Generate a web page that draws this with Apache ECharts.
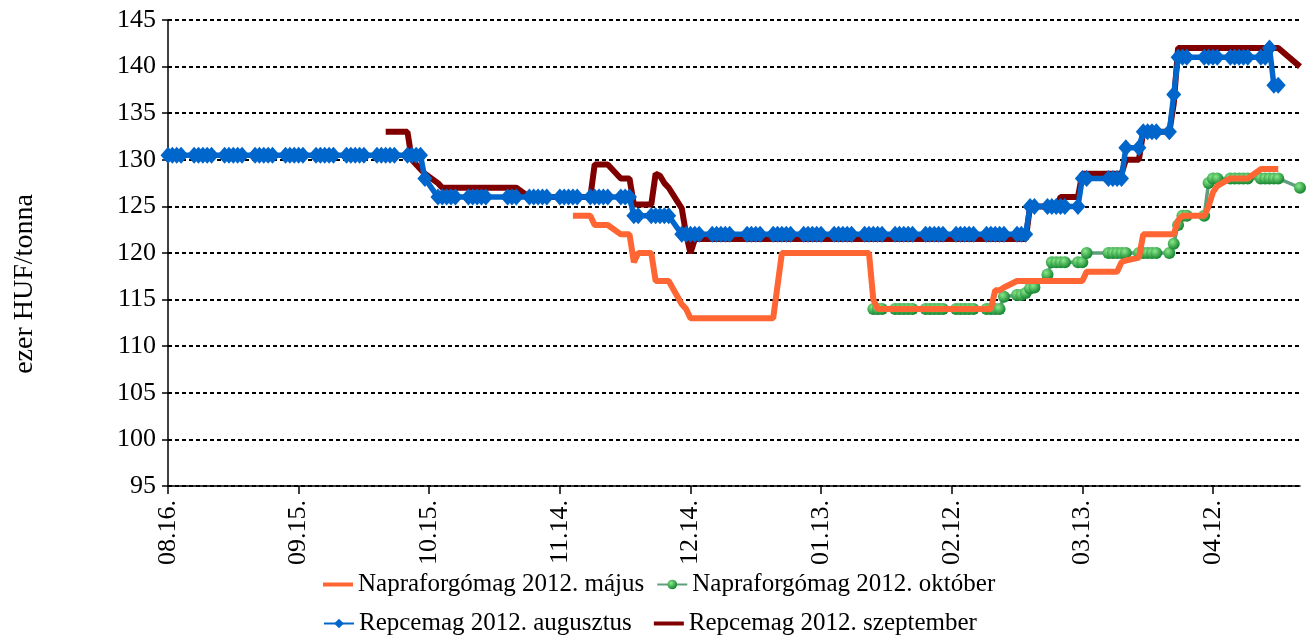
<!DOCTYPE html>
<html>
<head>
<meta charset="utf-8">
<script src="https://cdn.jsdelivr.net/npm/echarts@6/dist/echarts.min.js"></script>
<style>
  html, body { margin: 0; padding: 0; background: #fff; }
  #chart { width: 1309px; height: 636px; }
</style>
</head>
<body>
<div id="chart"></div>
<script>
// first calendar day on the x axis and number of days shown
const firstDay = [2011, 7, 16];
const dayCount = 261;

const seriesNames = [
  'Napraforgómag 2012. május',
  'Napraforgómag 2012. október',
  'Repcemag 2012. augusztus',
  'Repcemag 2012. szeptember'
];

// weekly rows, Monday..Friday, first row = week of 2011.08.15; null = no quote
const napraforgoMajus = [
  [null, null, null, null, null], [null, null, null, null, null], [null, null, null, null, null],
  [null, null, null, null, null], [null, null, null, null, null], [null, null, null, null, null],
  [null, null, null, null, null], [null, null, null, null, null], [null, null, null, null, null],
  [null, null, null, null, null], [null, null, null, null, null], [null, null, null, null, null],
  [null, null, null, null, null],
  [null, null, null, 124, 124],        // 11.14
  [124, 123, 123, 123, 123],
  [122, 122, 122, 119, 120],
  [120, 117, 117, 117, 117],
  [114.5, 114, 113, 113, 113],         // 12.12
  [113, 113, 113, 113, 113],
  [null, 113, 113, 113, 113],
  [113, 116.5, 120, 120, 120],         // 01.02
  [120, 120, 120, 120, 120],
  [120, 120, 120, 120, 120],
  [120, 120, 115, 114, 114],
  [114, 114, 114, 114, 114],           // 01.30
  [114, 114, 114, 114, 114],
  [114, 114, 114, 114, 114],
  [114, 114, 116, 116, 116.3],
  [117, 117, 117, 117, 117],           // 02.27
  [117, 117, 117, 117, 117],
  [117, 117, 118, null, null],
  [118, 118, 118, 119, 119.2],
  [119.5, 122, 122, 122, 122],         // 03.26
  [122, 122, 123.5, 124, 124],
  [null, 124, 125, 126.5, 127.2],
  [128, 128, 128, 128, 128],
  [129, 129, 129, 129, 129],           // 04.23
  [null, null, null]
];

const napraforgoOktober = [
  [null, null, null, null, null], [null, null, null, null, null], [null, null, null, null, null],
  [null, null, null, null, null], [null, null, null, null, null], [null, null, null, null, null],
  [null, null, null, null, null], [null, null, null, null, null], [null, null, null, null, null],
  [null, null, null, null, null], [null, null, null, null, null], [null, null, null, null, null],
  [null, null, null, null, null], [null, null, null, null, null], [null, null, null, null, null],
  [null, null, null, null, null], [null, null, null, null, null], [null, null, null, null, null],
  [null, null, null, null, null], [null, null, null, null, null], [null, null, null, null, null],
  [null, null, null, null, null], [null, null, null, null, null],
  [null, null, 114, 114, 114],         // 01.23
  [114, 114, 114, 114, 114],
  [114, 114, 114, 114, 114],
  [114, 114, 114, 114, 114],
  [114, 114, 114, 114, 115.3],         // 02.20
  [115.5, 115.5, 115.7, 116.2, 116.3],
  [117.7, 119, 119, 119, 119],
  [119, 119, 120, null, null],
  [120, 120, 120, 120, 120],           // 03.19
  [120, 120, 120, 120, 120],
  [120, 121, 123, 124, 124],
  [null, 124, 127.5, 128, 128],
  [128, 128, 128, 128, 128],           // 04.16
  [128, 128, 128, 128, 128],
  [null, null, 127]
];

const repceAugusztus = [
  [null, 130.5, 130.5, 130.5, 130.5],  // 08.15
  [130.5, 130.5, 130.5, 130.5, 130.5],
  [130.5, 130.5, 130.5, 130.5, 130.5],
  [130.5, 130.5, 130.5, 130.5, 130.5],
  [130.5, 130.5, 130.5, 130.5, 130.5],
  [130.5, 130.5, 130.5, 130.5, 130.5],
  [130.5, 130.5, 130.5, 130.5, 130.5],
  [130.5, 130.5, 130.5, 130.5, 130.5],
  [130.5, 130.5, 130.5, 130.5, 128],   // 10.10
  [126, 126, 126, 126, 126],
  [126, 126, 126, 126, 126],
  [null, null, 126, 126, 126],
  [126, 126, 126, 126, 126],
  [126, 126, 126, 126, 126],           // 11.14
  [126, 126, 126, 126, 126],
  [126, 126, 126, 124, 124],
  [124, 124, 124, 124, 124],
  [122, 122, 122, 122, 122],           // 12.12
  [122, 122, 122, 122, 122],
  [null, 122, 122, 122, 122],
  [122, 122, 122, 122, 122],
  [122, 122, 122, 122, 122],
  [122, 122, 122, 122, 122],
  [122, 122, 122, 122, 122],
  [122, 122, 122, 122, 122],           // 01.30
  [122, 122, 122, 122, 122],
  [122, 122, 122, 122, 122],
  [122, 122, 122, 122, 122],
  [122, 122, 122, 125, 125],           // 02.27
  [125, 125, 125, 125, 125],
  [125, 128, 128, null, null],
  [128, 128, 128, 128, 131.3],
  [131.3, 133, 133, 133, 133],         // 03.26
  [133, 137, 141, 141, 141],
  [null, 141, 141, 141, 141],
  [141, 141, 141, 141, 141],
  [141, 141, 142, 138, 138],           // 04.23
  [null, null, null]
];

const repceSzeptember = [
  [null, null, null, null, null], [null, null, null, null, null], [null, null, null, null, null],
  [null, null, null, null, null], [null, null, null, null, null], [null, null, null, null, null],
  [null, null, null, null, null],
  [null, null, 133, 133, 133],         // 10.03
  [133, 130, 129.5, 129, 128.5],
  [127.5, 127, 127, 127, 127],
  [127, 127, 127, 127, 127],
  [null, null, 127, 127, 127],
  [126, 126, 126, 126, 126],           // 11.07
  [126, 126, 126, 126, 126],
  [126, 129.5, 129.5, 129.5, 129.5],
  [128, 128, 128, 125.2, 125.2],
  [125.2, 128.5, 128.3, 127.5, 127],
  [124.8, 122, 120, 121.5, 121.5],     // 12.12
  [121.5, 121.5, 121.5, 121.5, 121.5],
  [null, 121.5, 121.5, 121.5, 121.5],
  [121.5, 121.5, 121.5, 121.5, 121.5],
  [121.5, 121.5, 121.5, 121.5, 121.5],
  [121.5, 121.5, 121.5, 121.5, 121.5],
  [121.5, 121.5, 121.5, 121.5, 121.5],
  [121.5, 121.5, 121.5, 121.5, 121.5], // 01.30
  [121.5, 121.5, 121.5, 121.5, 121.5],
  [121.5, 121.5, 121.5, 121.5, 121.5],
  [121.5, 121.5, 121.5, 121.5, 121.5],
  [121.5, 121.5, 121.5, 125, 125],     // 02.27
  [125, 125, 125, 126, 126],
  [126, 128.5, 128.5, null, null],
  [128.5, 128.5, 128.5, 128.5, 130],
  [130, 133, 133, 133, 133],           // 03.26
  [133, 136, 142, 142, 142],
  [null, 142, 142, 142, 142],
  [142, 142, 142, 142, 142],
  [142, 142, 142, 142, 142],           // 04.23
  [null, null, 140]
];

const pad = (n) => (n < 10 ? '0' + n : '' + n);

// calendar days of the axis, label format MM.DD.
const days = [];
for (let i = 0; i < dayCount; i++) {
  const d = new Date(firstDay[0], firstDay[1], firstDay[2] + i);
  days.push(pad(d.getMonth() + 1) + '.' + pad(d.getDate()) + '.');
}

// spread weekday rows onto calendar days (weekends empty)
const toDaily = (weeks) => {
  const flat = weeks.flat();
  const out = [];
  let k = 0;
  for (let i = -1; i < dayCount; i++) {
    const d = new Date(firstDay[0], firstDay[1], firstDay[2] + i);
    const wd = d.getDay();
    let v = null;
    if (wd !== 0 && wd !== 6) {
      v = flat[k++];
      if (v === undefined) v = null;
    }
    if (i >= 0) out.push(v);
  }
  return out;
};

// a label/tick every 30 days
const everyThirty = (index) => index % 30 === 0;

const font = 'Liberation Serif';
const lineIcon = 'path://M0,0 L30,0 L30,4 L0,4 Z';
const chart = echarts.init(document.getElementById('chart'));

const legendText = { color: '#000', fontFamily: font, fontSize: 25 };

chart.setOption({
  animation: false,
  backgroundColor: '#fff',
  grid: { left: 168, right: 9, top: 20, bottom: 150 },
  legend: [
    {
      data: [{ name: seriesNames[0], icon: lineIcon }, seriesNames[1]],
      left: 318, top: 567, itemWidth: 30, itemHeight: 12, itemGap: 12,
      textStyle: legendText
    },
    {
      data: [seriesNames[2], { name: seriesNames[3], icon: lineIcon }],
      left: 318, top: 606, itemWidth: 30, itemHeight: 12, itemGap: 22,
      textStyle: legendText
    }
  ],
  graphic: [{
    type: 'text',
    x: 25, y: 284,
    rotation: Math.PI / 2,
    style: {
      text: 'ezer HUF/tonna',
      fill: '#000',
      font: '28px "Liberation Serif"',
      align: 'center',
      verticalAlign: 'middle'
    }
  }],
  xAxis: {
    type: 'category',
    data: days,
    boundaryGap: false,
    axisLine: { lineStyle: { color: '#000', width: 1.5 } },
    axisTick: { interval: everyThirty, length: 8, lineStyle: { color: '#000', width: 1.5 } },
    axisLabel: {
      interval: everyThirty, rotate: 90, margin: 14,
      color: '#000', fontFamily: font, fontSize: 26
    },
    splitLine: { show: false }
  },
  yAxis: {
    type: 'value',
    min: 95, max: 145, interval: 5,
    axisLine: { show: true, lineStyle: { color: '#000', width: 1.5 } },
    axisTick: { show: true, length: 6, lineStyle: { color: '#000', width: 1.5 } },
    axisLabel: { color: '#000', fontFamily: font, fontSize: 26, margin: 12 },
    splitLine: { lineStyle: { color: '#000', width: 2, type: [4, 3] } }
  },
  series: [
    {
      name: seriesNames[0],
      type: 'line',
      data: toDaily(napraforgoMajus),
      connectNulls: true,
      symbol: 'none',
      z: 3,
      itemStyle: { color: '#FF6633' },
      lineStyle: { color: '#FF6633', width: 6 }
    },
    {
      name: seriesNames[1],
      type: 'line',
      data: toDaily(napraforgoOktober),
      connectNulls: true,
      symbol: 'circle',
      symbolSize: 12,
      showAllSymbol: true,
      z: 2,
      itemStyle: {
        color: {
          type: 'radial', x: 0.38, y: 0.35, r: 0.65,
          colorStops: [{ offset: 0, color: '#8BE88B' }, { offset: 1, color: '#13852F' }]
        }
      },
      lineStyle: { color: '#5E9E7C', width: 3.5 }
    },
    {
      name: seriesNames[2],
      type: 'line',
      data: toDaily(repceAugusztus),
      connectNulls: true,
      symbol: 'diamond',
      symbolSize: [15, 17],
      showAllSymbol: true,
      z: 5,
      itemStyle: { color: '#0066CC' },
      lineStyle: { color: '#0066CC', width: 5.5 }
    },
    {
      name: seriesNames[3],
      type: 'line',
      data: toDaily(repceSzeptember),
      connectNulls: true,
      symbol: 'none',
      z: 4,
      itemStyle: { color: '#800000' },
      lineStyle: { color: '#800000', width: 6 }
    }
  ]
});
</script>
</body>
</html>
